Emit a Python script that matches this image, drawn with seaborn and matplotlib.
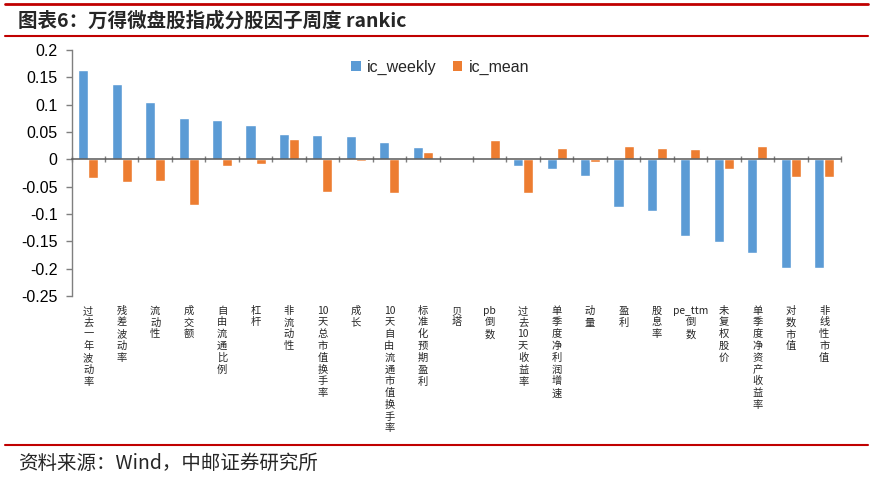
import matplotlib
matplotlib.use("Agg")
import matplotlib.pyplot as plt
import seaborn as sns
import pandas as pd
import numpy as np
from matplotlib.lines import Line2D
from matplotlib.patches import Patch

categories = ["过去一年波动率", "残差波动率", "流动性", "成交额", "自由流通比例", "杠杆",
              "非流动性", "10天总市值换手率", "成长", "10天自由流通市值换手率", "标准化预期盈利",
              "贝塔", "pb倒数", "过去10天收益率", "单季度净利润增速", "动量", "盈利", "股息率",
              "pe_ttm倒数", "未复权股价", "单季度净资产收益率", "对数市值", "非线性市值"]
ic_weekly = [0.163, 0.138, 0.104, 0.076, 0.072, 0.063, 0.046, 0.045, 0.042, 0.032, 0.023,
             0.003, 0.003, -0.013, -0.018, -0.030, -0.088, -0.095, -0.140, -0.152, -0.171,
             -0.198, -0.198]
ic_mean = [-0.035, -0.042, -0.040, -0.083, -0.013, -0.008, 0.037, -0.059, -0.003, -0.061,
           0.013, 0.003, 0.035, -0.062, 0.020, -0.004, 0.024, 0.021, 0.019, -0.017, 0.024,
           -0.033, -0.033]
series_names = ["ic_weekly", "ic_mean"]
yticks = [0.2, 0.15, 0.1, 0.05, 0, -0.05, -0.1, -0.15, -0.2, -0.25]
ytick_labels = ["0.2", "0.15", "0.1", "0.05", "0", "-0.05", "-0.1", "-0.15", "-0.2", "-0.25"]
title = "图表6：万得微盘股指成分股因子周度 rankic"
source = "资料来源：Wind，中邮证券研究所"

BLUE = "#5B9BD5"
ORANGE = "#ED7D31"
RED = "#C00000"

sns.set_theme(style="white")
plt.rcParams["font.family"] = ["Liberation Sans", "Noto Sans CJK SC", "DejaVu Sans"]
CJK = ["Noto Sans CJK SC", "DejaVu Sans"]

df = pd.DataFrame({
    "factor": categories * 2,
    "value": ic_weekly + ic_mean,
    "series": [series_names[0]] * len(categories) + [series_names[1]] * len(categories),
})

fig = plt.figure(figsize=(8.73, 4.79), dpi=100)
ax = fig.add_axes([71.5 / 873, 1 - 296 / 479, (841 - 71.5) / 873, (296 - 50) / 479])

sns.barplot(data=df, x="factor", y="value", hue="series", palette=[BLUE, ORANGE],
            width=0.6, ax=ax, legend=False, saturation=1, order=categories)

n = len(categories)
ax.set_xlim(-0.5, n - 0.5)
ax.set_ylim(-0.25, 0.2)
ax.set_xlabel("")
ax.set_ylabel("")

# axis styling
axis_color = "#7F7F7F"
for s in ["top", "right"]:
    ax.spines[s].set_visible(False)
ax.spines["left"].set_color(axis_color)
ax.spines["left"].set_linewidth(1.0)
ax.spines["bottom"].set_position(("data", 0))
ax.spines["bottom"].set_color("#595959")
ax.spines["bottom"].set_linewidth(1.1)

ax.set_yticks(yticks)
ax.set_yticklabels(ytick_labels, fontsize=11.5, color="black")
ax.tick_params(axis="y", direction="out", length=4, width=1, color=axis_color, pad=6, left=True)

ax.set_xticks(np.arange(-0.5, n, 1.0))
ax.set_xticklabels([])
ax.tick_params(axis="x", direction="inout", length=5, width=1, color=axis_color, bottom=True)


def stack(label):
    parts = []
    run = ""
    for ch in label:
        if ord(ch) < 128:
            run += ch
        else:
            if run:
                parts.append(run)
                run = ""
            parts.append(ch)
    if run:
        parts.append(run)
    return "\n".join(parts)


sec = ax.secondary_xaxis("bottom")
sec.set_xticks(range(n))
sec.set_xticklabels([stack(c) for c in categories], fontsize=7.4, family=CJK,
                    linespacing=1.22, va="top")
sec.tick_params(axis="x", length=0, pad=7)
sec.spines["bottom"].set_visible(False)

# legend
handles = [Patch(facecolor=BLUE, edgecolor="none"), Patch(facecolor=ORANGE, edgecolor="none")]
ax.legend(handles, series_names, loc="center", bbox_to_anchor=(0.479, 0.93), ncol=2,
          frameon=False, fontsize=11.5, handlelength=0.6, handleheight=0.6,
          handletextpad=0.4, columnspacing=1.0)

# header / footer
fig.add_artist(Line2D([5 / 873, 868 / 873], [1 - 4 / 479, 1 - 4 / 479], color=RED, lw=2))
fig.add_artist(Line2D([5 / 873, 868 / 873], [1 - 36 / 479, 1 - 36 / 479], color=RED, lw=1.5))
fig.text(18 / 873, 1 - 21 / 479, title, fontsize=14, fontweight="bold", family=CJK,
         va="center", ha="left")
fig.add_artist(Line2D([5 / 873, 868 / 873], [1 - 445 / 479, 1 - 445 / 479], color=RED, lw=1.5))
fig.text(18 / 873, 1 - 463 / 479, source, fontsize=14, family=CJK, va="center", ha="left")

fig.savefig("out.png", dpi=100)
